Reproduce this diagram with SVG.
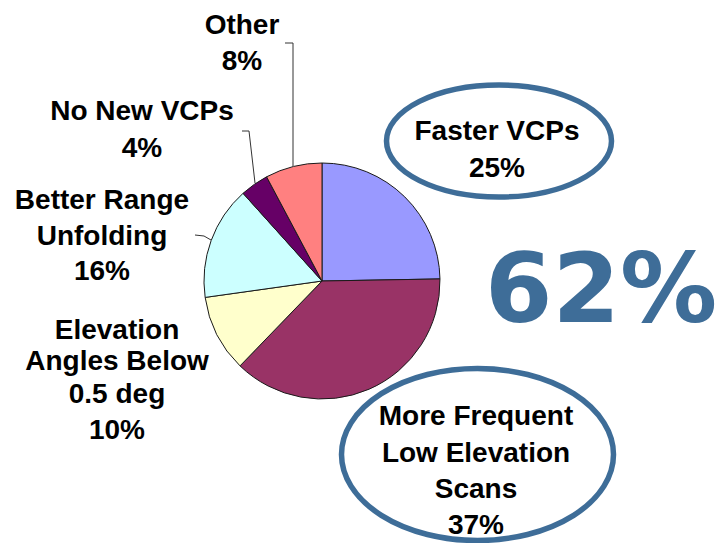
<svg xmlns="http://www.w3.org/2000/svg" width="721" height="543" viewBox="0 0 721 543">
<style>
.lbl{font-family:"Liberation Sans",Arial,sans-serif;font-weight:bold;font-size:28px;text-anchor:middle;fill:#000}
.big{font-family:"DejaVu Sans",Verdana,sans-serif;font-weight:bold;font-size:97px;fill:#3E6D98}
.slice{stroke:#1a1a1a;stroke-width:1;stroke-linejoin:round}
.oval{fill:none;stroke:#3E6D98;stroke-width:5.5}
.lead{fill:none;stroke:#333;stroke-width:1}
</style>
<rect width="721" height="543" fill="#fff"/>
<g id="pie">
<g id="slice-faster"><path class="slice" fill="#9999FF" d="M322,281 L322,163 A118,118 0 0 1 439.98,278.94 Z"/></g>
<g id="slice-frequent"><path class="slice" fill="#993366" d="M322,281 L439.98,278.94 A118,118 0 0 1 240.03,365.88 Z"/></g>
<g id="slice-elevation"><path class="slice" fill="#FFFFCC" d="M322,281 L240.03,365.88 A118,118 0 0 1 205.15,297.42 Z"/></g>
<g id="slice-range"><path class="slice" fill="#CCFFFF" d="M322,281 L205.15,297.42 A118,118 0 0 1 243.04,193.31 Z"/></g>
<g id="slice-nonew"><path class="slice" fill="#660066" d="M322,281 L243.04,193.31 A118,118 0 0 1 266.60,176.81 Z"/></g>
<g id="slice-other"><path class="slice" fill="#FF8080" d="M322,281 L266.60,176.81 A118,118 0 0 1 322,163 Z"/></g>
</g>
<g id="connectors">
<polyline class="lead" points="285,43 293,43 293,166"/>
<polyline class="lead" points="242,131 249,131 255,183"/>
<polyline class="lead" points="195,235 204,236 211,240"/>
</g>
<g id="label-other">
<text class="lbl" x="242" y="34">Other</text>
<text class="lbl" x="242" y="70">8%</text>
</g>
<g id="label-nonew">
<text class="lbl" x="142" y="120">No New VCPs</text>
<text class="lbl" x="142" y="157">4%</text>
</g>
<g id="label-range">
<text class="lbl" x="102" y="209">Better Range</text>
<text class="lbl" x="102" y="245">Unfolding</text>
<text class="lbl" x="102" y="280">16%</text>
</g>
<g id="label-elevation">
<text class="lbl" x="117" y="339">Elevation</text>
<text class="lbl" x="117" y="370">Angles Below</text>
<text class="lbl" x="117" y="403">0.5 deg</text>
<text class="lbl" x="117" y="439">10%</text>
</g>
<g id="label-faster">
<ellipse class="oval" cx="499" cy="141" rx="112.5" ry="56"/>
<text class="lbl" x="497" y="140">Faster VCPs</text>
<text class="lbl" x="497" y="177">25%</text>
</g>
<g id="label-frequent">
<ellipse class="oval" cx="477.5" cy="454.5" rx="136" ry="86"/>
<text class="lbl" x="476" y="425">More Frequent</text>
<text class="lbl" x="476" y="462">Low Elevation</text>
<text class="lbl" x="476" y="498">Scans</text>
<text class="lbl" x="476" y="534">37%</text>
</g>
<g id="total">
<text class="big" x="485" y="322">62%</text>
</g>
</svg>
